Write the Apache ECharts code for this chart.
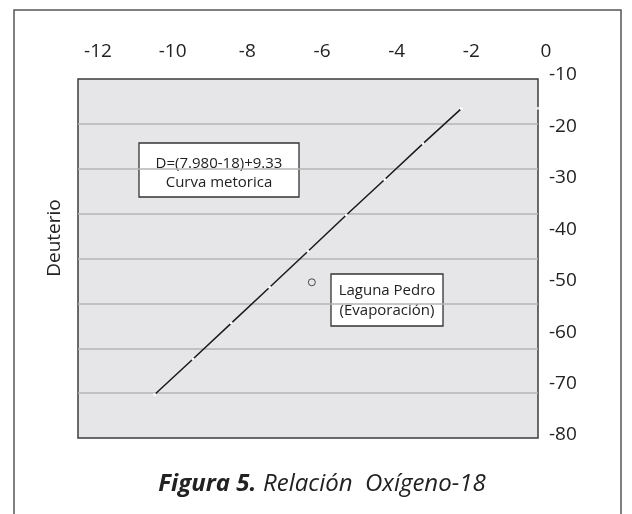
<!DOCTYPE html>
<html>
<head>
<meta charset="utf-8">
<script src="https://cdn.jsdelivr.net/npm/echarts@6/dist/echarts.min.js"></script>
<style>
  html, body { margin: 0; padding: 0; background: #fff; }
  #chart { width: 632px; height: 514px; }
</style>
</head>
<body>
<div id="chart"></div>
<script>
// tick labels as printed on the figure
const xTicks = [-12, -10, -8, -6, -4, -2, 0];
const yTicks = [-10, -20, -30, -40, -50, -60, -70, -80];

// curva meteorica
const oxigeno = [-10, -9, -8, -7, -6, -5, -4, -3, -2];
const deuterio = [-70.3, -62.4, -54.4, -46.4, -38.4, -30.3, -22.4, -14.4, -6.6];

// Laguna Pedro
const lagunaO = [-5.9];
const lagunaD = [-45.3];

// stray white mark on the right border
const marcaO = [0];
const marcaD = [-6.5];

const FONT = "Open Sans";
const INK = "#222";

const myChart = echarts.init(document.getElementById("chart"));

const option = {
  animation: false,
  backgroundColor: "#fff",
  grid: [
    {
      // plot box (true data scale)
      left: 78,
      top: 79,
      width: 460,
      height: 359,
      show: true,
      backgroundColor: "#e6e6e8",
      borderColor: "#3c3c3c",
      borderWidth: 1.5,
    },
    {
      // printed tick labels
      left: 98,
      right: 86,
      top: 75,
      bottom: 79,
    },
  ],
  xAxis: [
    { gridIndex: 0, type: "value", min: -12, max: 0, show: false },
    {
      gridIndex: 1,
      type: "value",
      position: "top",
      min: xTicks[0],
      max: xTicks[xTicks.length - 1],
      interval: 2,
      axisLine: { show: false },
      axisTick: { show: false },
      splitLine: { show: false },
      axisLabel: { margin: 14, fontSize: 19, color: INK, fontFamily: FONT },
    },
  ],
  yAxis: [
    {
      gridIndex: 0,
      type: "value",
      min: -80,
      max: 0,
      interval: 10,
      axisLabel: { show: false },
      axisLine: { show: false },
      axisTick: { show: false },
      splitLine: {
        show: true,
        showMinLine: false,
        showMaxLine: false,
        lineStyle: { color: "#b4b4b4", width: 1.5 },
      },
    },
    {
      gridIndex: 1,
      type: "value",
      position: "right",
      min: yTicks[yTicks.length - 1],
      max: yTicks[0],
      interval: 10,
      axisLine: { show: false },
      axisTick: { show: false },
      splitLine: { show: false },
      axisLabel: { margin: 3, fontSize: 19, color: INK, fontFamily: FONT },
    },
  ],
  series: [
    {
      name: "Curva metorica",
      type: "line",
      xAxisIndex: 0,
      yAxisIndex: 0,
      data: oxigeno.map((o, i) => [o, deuterio[i]]),
      symbol: "circle",
      symbolSize: 3,
      showSymbol: true,
      lineStyle: { color: "#1a1a1a", width: 1.5 },
      itemStyle: { color: "#fff", borderWidth: 0 },
      z: 3,
    },
    {
      name: "Laguna Pedro",
      type: "scatter",
      xAxisIndex: 0,
      yAxisIndex: 0,
      data: lagunaO.map((o, i) => [o, lagunaD[i]]),
      symbol: "circle",
      symbolSize: 7,
      itemStyle: { color: "rgba(0,0,0,0)", borderColor: "#222", borderWidth: 1 },
    },
    {
      name: "marca",
      type: "scatter",
      xAxisIndex: 0,
      yAxisIndex: 0,
      data: marcaO.map((o, i) => [o, marcaD[i]]),
      symbol: "circle",
      symbolSize: 3,
      itemStyle: { color: "#fff" },
      z: 5,
    },
  ],
  graphic: [
    {
      type: "rect",
      z: 100,
      shape: { x: 14, y: 10, width: 607, height: 520 },
      style: { fill: "none", stroke: "#555", lineWidth: 1.5 },
    },
    {
      type: "text",
      z: 100,
      x: 55,
      y: 238,
      rotation: Math.PI / 2,
      style: {
        text: "Deuterio",
        font: "19px " + FONT,
        fill: INK,
        align: "center",
        verticalAlign: "middle",
      },
    },
    {
      type: "group",
      z: 100,
      children: [
        {
          type: "rect",
          shape: { x: 139, y: 143, width: 160, height: 54 },
          style: { fill: "#fff", stroke: "#333", lineWidth: 1.3 },
        },
        {
          type: "text",
          x: 219,
          y: 164,
          style: { text: "D=(7.980-18)+9.33", font: "15px " + FONT, fill: INK, align: "center", verticalAlign: "middle" },
        },
        {
          type: "text",
          x: 219,
          y: 183,
          style: { text: "Curva metorica", font: "15px " + FONT, fill: INK, align: "center", verticalAlign: "middle" },
        },
      ],
    },
    {
      type: "group",
      z: 100,
      children: [
        {
          type: "rect",
          shape: { x: 331, y: 274, width: 112, height: 52 },
          style: { fill: "#fff", stroke: "#333", lineWidth: 1.3 },
        },
        {
          type: "text",
          x: 387,
          y: 291,
          style: { text: "Laguna Pedro", font: "15px " + FONT, fill: INK, align: "center", verticalAlign: "middle" },
        },
        {
          type: "text",
          x: 387,
          y: 311,
          style: { text: "(Evaporación)", font: "15px " + FONT, fill: INK, align: "center", verticalAlign: "middle" },
        },
      ],
    },
    {
      type: "text",
      z: 100,
      x: 322,
      y: 484,
      style: {
        text: "{b|Figura 5.}  {n|Relación  Oxígeno-18}",
        align: "center",
        verticalAlign: "middle",
        rich: {
          b: { fontFamily: FONT, fontSize: 24, fontStyle: "italic", fontWeight: "bold", fill: INK },
          n: { fontFamily: FONT, fontSize: 24, fontStyle: "italic", fill: INK },
        },
      },
    },
  ],
};

option && myChart.setOption(option);
</script>
</body>
</html>
